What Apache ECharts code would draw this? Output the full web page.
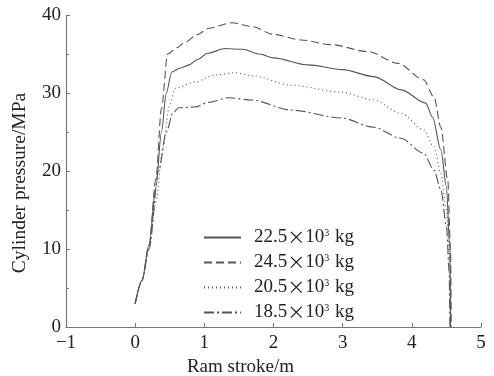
<!DOCTYPE html>
<html>
<head>
<meta charset="utf-8">
<script src="https://cdn.jsdelivr.net/npm/echarts@6/dist/echarts.min.js"></script>
<style>
  html, body { margin: 0; padding: 0; background: #fff; }
  #chart { width: 494px; height: 376px; }
</style>
</head>
<body>
<div id="chart"></div>
<script>
// [ram stroke (m), cylinder pressure (MPa)]
const mass225 = [[0,3],[0.1,6],[0.2,10.5],[0.3,18],[0.38,25],[0.45,30],[0.53,32.7],[0.65,33.2],[0.78,33.6],[0.9,34.3],[1.05,35.1],[1.3,35.7],[1.55,35.6],[1.8,35],[2.0,34.5],[2.5,33.6],[3.0,33.0],[3.45,32.1],[3.85,30.4],[4.2,28.7],[4.3,26.9],[4.42,22.7],[4.5,18],[4.55,10],[4.56,0]]
const mass245 = [[0,3],[0.1,6],[0.2,10.5],[0.3,19],[0.38,28],[0.47,35],[0.6,35.8],[0.72,36.5],[0.9,37.5],[1.06,38.3],[1.4,39],[1.7,38.5],[2.0,37.5],[2.4,36.8],[2.83,36.2],[3.37,35.3],[3.8,33.8],[4.17,31.7],[4.32,29.5],[4.42,25.6],[4.52,18.8],[4.56,10],[4.57,0]]
const mass205 = [[0,3],[0.1,6],[0.2,10],[0.3,16],[0.4,23],[0.5,28.5],[0.58,30.6],[0.86,31.4],[1.15,32.3],[1.44,32.6],[1.7,32.2],[2.26,31.0],[2.98,30.1],[3.45,29.1],[3.84,27.4],[4.17,25.3],[4.32,23.1],[4.42,19.7],[4.5,15],[4.55,8],[4.56,0]]
const mass185 = [[0,3],[0.1,6],[0.2,10],[0.34,20],[0.45,25],[0.55,27.5],[0.63,28.1],[0.86,28.2],[1.06,28.8],[1.35,29.4],[1.68,29.1],[2.26,27.8],[2.98,26.8],[3.45,25.6],[3.84,24.2],[4.17,22.3],[4.32,20.1],[4.42,17.6],[4.5,13],[4.54,7],[4.55,0]]
const seriesNames = ['22.5×10³ kg', '24.5×10³ kg', '20.5×10³ kg', '18.5×10³ kg']

const serif = 'Liberation Serif'
const lineColor = '#555'
const axisColor = '#777'

const chart = echarts.init(document.getElementById('chart'))

const makeLine = (name, data, type) => ({
  name,
  type: 'line',
  data,
  showSymbol: false,
  symbol: 'none',
  smooth: 0.3,
  smoothMonotone: 'x',
  lineStyle: { color: lineColor, width: 1.1, type },
  itemStyle: { color: lineColor }
})

// "22.5×10³ kg" -> rich text with a wide times sign and a raised exponent
const legendText = name => {
  const m = name.match(/^([\d.]+)×10³ kg$/)
  return `{n|${m[1]}}{x|×}{n|10}{s|3}{n| kg}`
}

const axisCommon = {
  axisTick: { inside: true, length: 4, lineStyle: { color: axisColor } },
  axisLabel: {
    color: '#222', fontFamily: serif, fontSize: 19,
    formatter: v => String(v).replace('-', '−')
  },
  splitLine: { show: false }
}

chart.setOption({
  animation: false,
  grid: { left: 66, right: 13, top: 15, bottom: 49, outerBoundsMode: 'none' },
  legend: {
    orient: 'vertical',
    left: 203,
    top: 228,
    padding: 0,
    itemWidth: 37,
    itemHeight: 10,
    itemGap: 6,
    itemStyle: { opacity: 0 },
    formatter: legendText,
    textStyle: {
      color: '#222',
      padding: [0, 0, 0, 8],
      rich: {
        n: { fontFamily: serif, fontSize: 19, color: '#222' },
        x: { fontFamily: 'Noto Sans CJK SC', fontSize: 18, color: '#222' },
        s: { fontFamily: serif, fontSize: 10, color: '#222', padding: [0, 1, 9, 0] }
      }
    },
    data: seriesNames
  },
  xAxis: {
    ...axisCommon,
    type: 'value',
    min: -1,
    max: 5,
    interval: 1,
    name: 'Ram stroke/m',
    nameLocation: 'middle',
    nameGap: 28,
    nameTextStyle: { color: '#222', fontFamily: serif, fontSize: 19, padding: [0, 66, 0, 0] },
    axisLine: { onZero: false, lineStyle: { color: axisColor, width: 1.2 } },
    axisLabel: { ...axisCommon.axisLabel, margin: 7 }
  },
  yAxis: {
    ...axisCommon,
    type: 'value',
    min: 0,
    max: 40,
    interval: 10,
    name: 'Cylinder pressure/MPa',
    nameLocation: 'middle',
    nameGap: 36,
    nameTextStyle: { color: '#222', fontFamily: serif, fontSize: 19.5, padding: [0, 24, 0, 0] },
    axisLine: { onZero: false, lineStyle: { color: axisColor, width: 1.2 } },
    minorTick: { show: true, splitNumber: 2, length: 3, lineStyle: { color: axisColor } },
    axisLabel: { ...axisCommon.axisLabel, margin: 5 }
  },
  series: [
    makeLine(seriesNames[0], mass225, 'solid'),
    makeLine(seriesNames[1], mass245, [8, 4]),
    makeLine(seriesNames[2], mass205, [1, 3]),
    makeLine(seriesNames[3], mass185, [10, 3, 2, 3])
  ]
})
</script>
</body>
</html>
